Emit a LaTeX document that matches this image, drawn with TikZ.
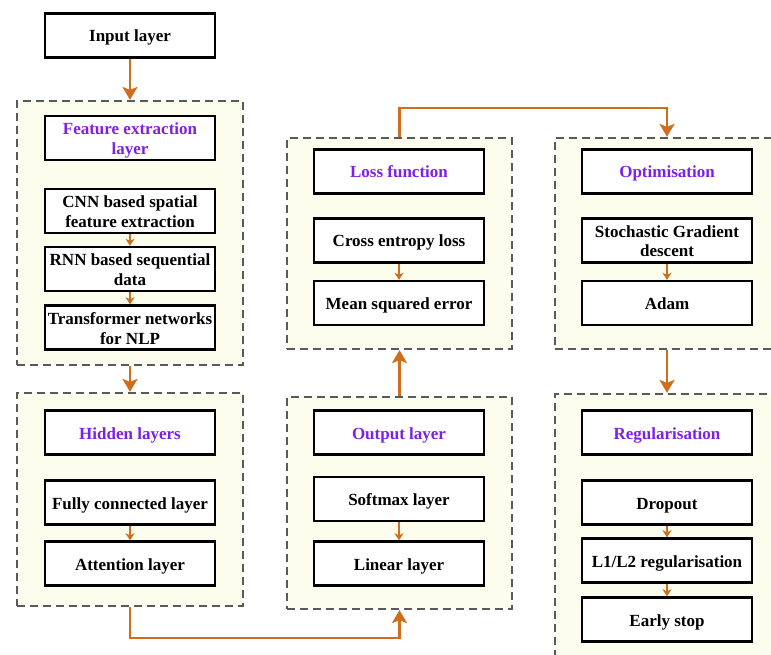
\documentclass[tikz,border=0pt]{standalone}
\usepackage{fontspec}
\setmainfont{Liberation Serif}
\usetikzlibrary{arrows.meta}
\definecolor{arrcol}{RGB}{207,110,28}
\definecolor{ttlcol}{RGB}{126,32,230}
\definecolor{contfill}{RGB}{253,253,238}
\definecolor{dashcol}{RGB}{90,90,90}
\tikzset{
  ibox/.style={draw=black, line width=2.4pt, fill=white, minimum width=170pt, minimum height=44pt,
    inner sep=0pt, align=center, font=\fontsize{17}{20}\selectfont\bfseries, text height=17pt, text depth=4pt},
  tbox/.style={ibox, text=ttlcol},
  twoline/.style={text height=37pt, text depth=4pt},
  cont/.style={draw=dashcol, line width=2.2pt, dash pattern=on 8pt off 5pt, fill=contfill, inner sep=0pt},
  bigarr/.style={draw=arrcol, line width=2.4pt, -{Stealth[length=13pt,width=15pt,inset=3pt]}},
  smallarr/.style={draw=arrcol, line width=1.6pt, -{Stealth[length=7pt,width=9pt,inset=2pt]}},
}
\begin{document}
\begin{tikzpicture}[x=1pt,y=-1pt]
\useasboundingbox (0,0) rectangle (771,655);
% containers
\node[cont, minimum width=226pt, minimum height=264pt] (feat) at (130,233) {};
\node[cont, minimum width=226pt, minimum height=213pt] (hid) at (130,499.5) {};
\node[cont, minimum width=225pt, minimum height=211pt] (loss) at (399.5,243.5) {};
\node[cont, minimum width=225pt, minimum height=212pt] (out) at (399.5,503) {};
\node[cont, minimum width=224pt, minimum height=211pt] (opt) at (667,243.5) {};
\node[cont, minimum width=224pt, minimum height=271pt] (reg) at (667,529.5) {};
% boxes
\node[ibox] (input) at (130,35.5) {Input layer};
\node[tbox, twoline] (featT) at (130,138) {Feature extraction\\layer};
\node[ibox, twoline] (cnn) at (130,211) {CNN based spatial\\feature extraction};
\node[ibox, twoline] (rnn) at (130,269) {RNN based sequential\\data};
\node[ibox, twoline] (trans) at (130,327.5) {Transformer networks\\for NLP};
\node[tbox] (hidT) at (130,432.5) {Hidden layers};
\node[ibox] (fc) at (130,502.5) {Fully connected layer};
\node[ibox] (att) at (130,563.5) {Attention layer};
\node[tbox] (lossT) at (399,171.5) {Loss function};
\node[ibox] (ce) at (399,240.5) {Cross entropy loss};
\node[ibox] (mse) at (399,303) {Mean squared error};
\node[tbox] (outT) at (399,432.5) {Output layer};
\node[ibox] (soft) at (399,499) {Softmax layer};
\node[ibox] (lin) at (399,563.5) {Linear layer};
\node[tbox] (optT) at (667,171.5) {Optimisation};
\node[ibox, twoline] (sgd) at (667,240.5) {Stochastic Gradient\\descent};
\node[ibox] (adam) at (667,303) {Adam};
\node[tbox] (regT) at (667,432.5) {Regularisation};
\node[ibox] (drop) at (667,502.5) {Dropout};
\node[ibox] (l1) at (667,560.5) {L1/L2 regularisation};
\node[ibox] (early) at (667,619.5) {Early stop};
% small arrows
\draw[smallarr] (cnn.south) -- (rnn.north);
\draw[smallarr] (rnn.south) -- (trans.north);
\draw[smallarr] (fc.south) -- (att.north);
\draw[smallarr] (ce.south) -- (mse.north);
\draw[smallarr] (soft.south) -- (lin.north);
\draw[smallarr] (sgd.south) -- (adam.north);
\draw[smallarr] (drop.south) -- (l1.north);
\draw[smallarr] (l1.south) -- (early.north);
% big arrows
\draw[bigarr] (input.south) -- (feat.north);
\draw[bigarr] (feat.south) -- (hid.north);
\draw[bigarr] (hid.south) -- ++(0,31) -| (out.south);
\draw[bigarr] (out.north) -- (loss.south);
\draw[bigarr] (loss.north) -- ++(0,-29) -| (opt.north);
\draw[bigarr] (opt.south) -- (reg.north);
\end{tikzpicture}
\end{document}
